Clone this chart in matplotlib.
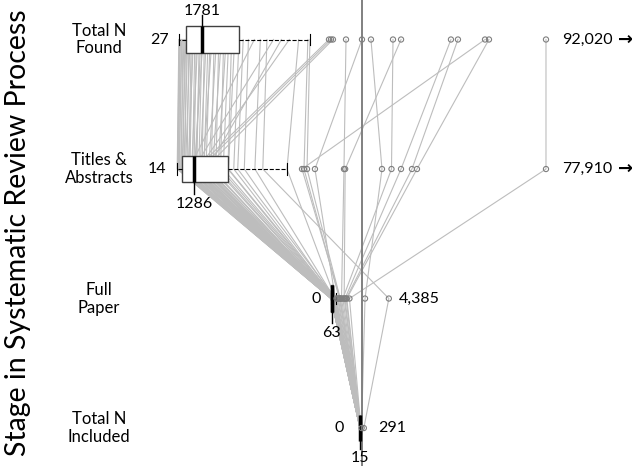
import numpy as np
import matplotlib
matplotlib.use('Agg')
import matplotlib.pyplot as plt
from matplotlib.transforms import blended_transform_factory

plt.rcParams['font.family'] = ['Lato', 'DejaVu Sans']

stages = ['Total N\nFound', 'Titles &\nAbstracts', 'Full\nPaper', 'Total N\nIncluded']

# counts per review at each stage (same order in every list)
found = [27, 60, 95, 140, 210, 260, 330, 410, 480, 560,
         610, 700, 790, 880, 960, 1050, 1130, 1240, 1350, 1460,
         1570, 1680, 1781, 1850, 1960, 2100, 2240, 2390, 2530, 2700,
         2880, 3050, 3240, 3420, 3610, 3800, 4020, 4250, 4580, 4900,
         5300, 5750, 6200, 6700, 7200, 7800, 8400, 9100, 9800, 9960,
         11400, 11550, 11700, 12690, 13900, 14580, 16250, 16860, 20640, 21170,
         23220, 23520, 92020]
titles = [14, 41, 80, 100, 190, 150, 310, 280, 450, 380,
          590, 520, 760, 640, 900, 980, 850, 1180, 1286, 1100,
          1500, 1400, 1650, 1320, 1900, 1750, 2050, 2200, 1980, 2600,
          2400, 2950, 2700, 3300, 3100, 3500, 3860, 3900, 4300, 4600,
          5100, 900, 5900, 6500, 1250, 2300, 1600, 8330, 9620, 9850,
          1450, 1700, 2100, 12650, 10450, 15530, 16250, 12740, 16970, 17800,
          9470, 18180, 77910]
full_paper = [0, 5, 8, 12, 20, 15, 25, 30, 18, 40,
              45, 22, 60, 35, 70, 55, 80, 63, 90, 48,
              110, 75, 130, 65, 150, 95, 160, 120, 85, 180,
              140, 200, 105, 230, 170, 260, 190, 300, 220, 350,
              250, 420, 280, 4385, 500, 310, 560, 330, 640, 700,
              60, 90, 120, 800, 330, 2580, 900, 1000, 1060, 1150,
              700, 1200, 1400]
included = [0, 0, 1, 2, 3, 2, 4, 5, 3, 6,
            8, 4, 10, 6, 12, 9, 14, 15, 16, 8,
            18, 12, 20, 11, 22, 15, 25, 19, 13, 28,
            21, 30, 17, 33, 24, 36, 27, 40, 29, 45,
            31, 50, 34, 291, 55, 38, 60, 42, 70, 80,
            7, 10, 14, 48, 26, 120, 52, 58, 44, 62,
            39, 65, 75]

# box summaries: whisker low, q1, median, q3, whisker high
box_found = [27, 570, 1781, 4580, 9960]
box_titles = [14, 380, 1286, 3860, 8330]
box_full = [0, 20, 63, 160, 350]
box_included = [0, 4, 15, 35, 80]

max_labels = ['92,020', '77,910', '4,385', '291']

# layout: each stage row is shifted right, huge values are capped at the edge
row_shift = [0, -114, 11550, 13750]
x_cap = 27840
ref_x = 13900

rows = [found, titles, full_paper, included]
boxes = [box_found, box_titles, box_full, box_included]

fig = plt.figure(figsize=(6.32, 4.66), dpi=100)
ax = fig.add_axes([0, 0, 1, 1])
upp = 1 / 0.0132
ax.set_xlim(-178.5 * upp, (632 - 178.5) * upp)
ax.set_ylim(3.293, -0.305)
ax.axis('off')

def px(v, r):
    return min(v + row_shift[r], x_cap)

# study lines
data = np.array(rows)
for j in range(data.shape[1]):
    xs = [px(data[r, j], r) for r in range(4)]
    ax.plot(xs, range(4), color='#bdbdbd', lw=0.8, zorder=1)

ax.axvline(ref_x, color='#808080', lw=1.4, zorder=2)

fs = 11.5
for r in range(4):
    lo, q1, med, q3, hi = boxes[r]
    s = row_shift[r]
    st = dict(whislo=lo + s, q1=q1 + s, med=med + s, q3=q3 + s, whishi=hi + s, fliers=[])
    ax.bxp([st], positions=[r], orientation='horizontal', widths=0.205, capwidths=0.09,
           patch_artist=True, showfliers=False, manage_ticks=False,
           boxprops=dict(facecolor='white', edgecolor='#404040', lw=1),
           medianprops=dict(color='black', lw=2.5),
           whiskerprops=dict(color='black', ls='--', lw=0.8),
           capprops=dict(color='black', lw=0.8), zorder=3)
    fl = [px(v, r) for v in rows[r] if v > hi]
    ax.scatter(fl, [r] * len(fl), s=14, facecolor='none', edgecolor='#7f7f7f', lw=0.8, zorder=4)

    # median stem + label
    if r == 0:
        ax.plot([med + s, med + s], [r - 0.1, r - 0.19], color='black', lw=1, zorder=3)
        ax.annotate(f'{med}', (med + s, r), xytext=(0, 29), textcoords='offset pixels',
                    ha='center', va='center', fontsize=fs)
    else:
        ax.plot([med + s, med + s], [r + 0.1, r + [0, 0.19, 0.19, 0.16][r]], color='black', lw=1, zorder=3)
        ax.annotate(f'{med}', (med + s, r), xytext=(0, [0, -35, -34, -30][r]), textcoords='offset pixels',
                    ha='center', va='center', fontsize=fs)
    # min label
    ax.annotate(f'{lo}', (lo + s, r), xytext=([-10, -11, -10, -16][r], 0), textcoords='offset pixels',
                ha='right', va='center', fontsize=fs)
    # max label
    mx = max(rows[r])
    ax.annotate(max_labels[r], (px(mx, r), r), xytext=([16, 16, 10, 14][r], 0), textcoords='offset pixels',
                ha='left', va='center', fontsize=fs)
    if mx + s > x_cap:
        ax.annotate('\u2192', (px(mx, r), r), xytext=(72, 0), textcoords='offset pixels',
                    ha='left', va='center', fontsize=13, fontweight='bold', family='DejaVu Sans')

tr = blended_transform_factory(ax.transAxes, ax.transData)
for r, lab in enumerate(stages):
    ax.text(99 / 632, r, lab, transform=tr, ha='center', va='center', fontsize=12, linespacing=1.15)

ax.text(18 / 632, 0.5, 'Stage in Systematic Review Process', transform=ax.transAxes,
        rotation=90, ha='center', va='center', fontsize=20.5)

fig.savefig('out.png', dpi=100)
